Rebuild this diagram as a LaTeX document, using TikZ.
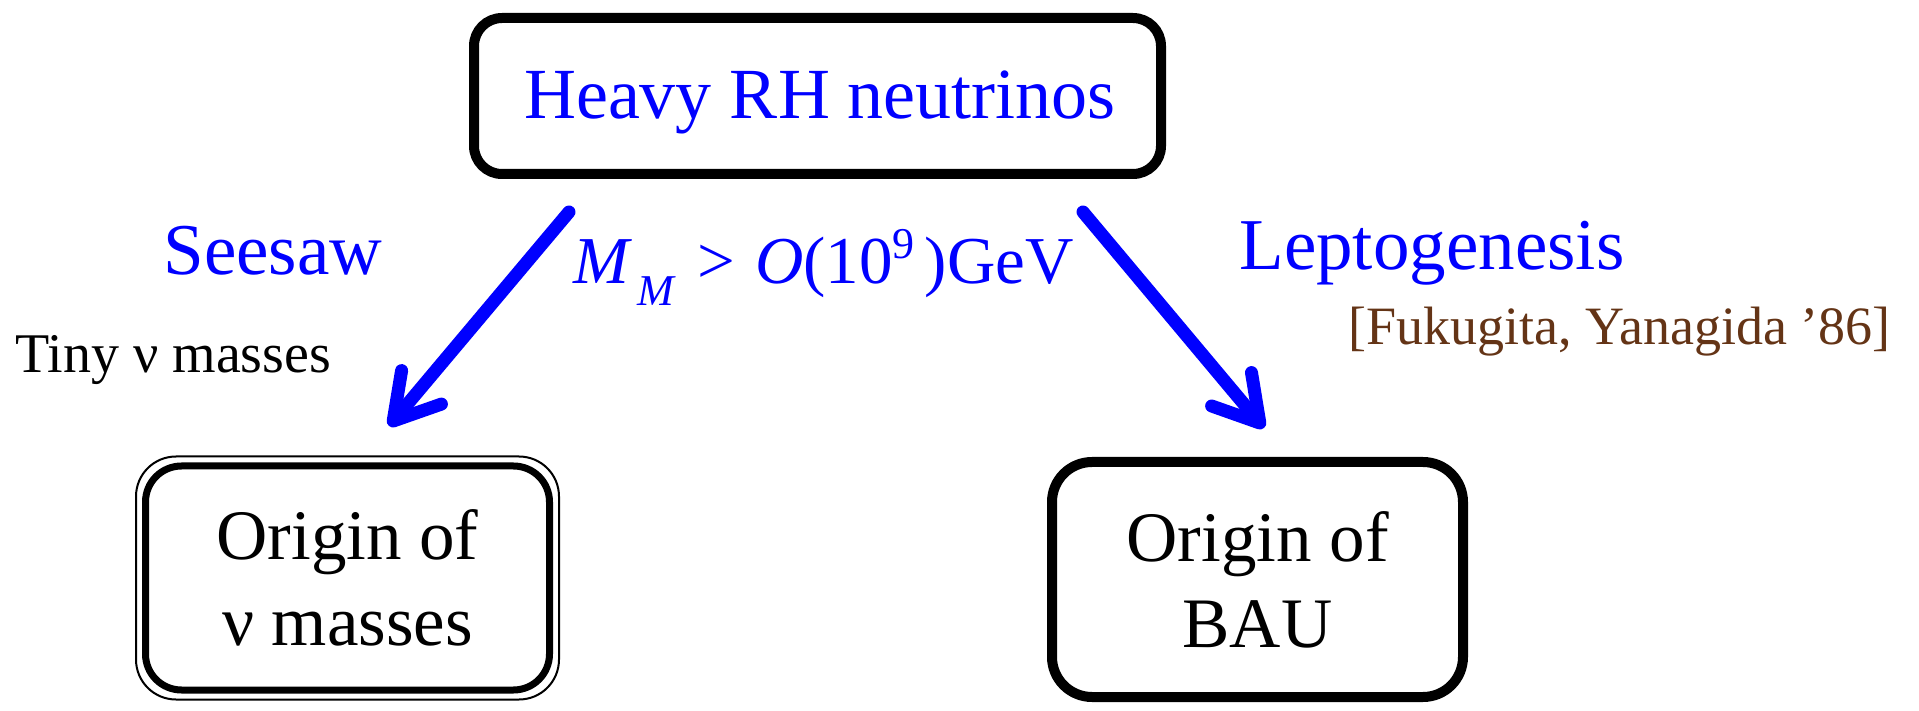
\documentclass[tikz,border=0pt]{standalone}
\usepackage{fontspec}
\setmainfont{Liberation Serif}
\usetikzlibrary{arrows.meta}
\definecolor{rhblue}{RGB}{0,0,255}
\definecolor{refbrown}{RGB}{100,52,22}
\begin{document}
\begin{tikzpicture}[x=0.5pt,y=-0.5pt,
  box/.style={draw=black, line width=5pt, rounded corners=16pt, inner sep=0pt, align=center},
  boxtext/.style={font=\fontsize{35.5}{43}\selectfont},
  bigarrow/.style={draw=rhblue, line width=6.5pt, line cap=round,
    -{Straight Barb[length=22pt,width=26pt,round]}},
  lab/.style={inner sep=0pt},
  bluelab/.style={lab, text=rhblue, font=\fontsize{36.5}{38}\selectfont},
]
\useasboundingbox (0,0) rectangle (1919,711);

% boxes
\node[box, minimum width=343.5pt, minimum height=78pt, rounded corners=14pt] (rh) at (817.5,96) {};
\node[lab, text=rhblue, font=\fontsize{36}{38}\selectfont] (rht) at (820,102) {Heavy RH neutrinos};
\node[box, boxtext, line width=3.5pt, minimum width=202pt, minimum height=112pt,
      rounded corners=18pt] (nu) at (347.5,578) {Origin of\\ν masses};
\draw[line width=1pt, rounded corners=20pt]
  ([shift={(-6,6)}]nu.south west) rectangle ([shift={(6,-6)}]nu.north east);
\node[box, boxtext, minimum width=205.5pt, minimum height=117.5pt,
      rounded corners=20pt] (bau) at (1257.5,579.5) {Origin of\\BAU};

% arrows
\coordinate (la0) at (569,212);
\coordinate (la1) at (389,426);
\coordinate (ra0) at (1083,212);
\coordinate (ra1) at (1264,428);
\draw[bigarrow] (la0) -- (la1);
\draw[bigarrow] (ra0) -- (ra1);

% labels
\node[bluelab] (see) at (273,251) {Seesaw};
\node[bluelab] (lep) at (1432,253) {Leptogenesis};
\node[lab, anchor=base west, font=\fontsize{28}{30}\selectfont] (tiny) at (15,373) {Tiny ν masses};
\node[lab, anchor=base east, text=refbrown, font=\fontsize{27}{29}\selectfont] (ref) at (1891,345)
  {[Fukugita, Yanagida ’86]};
\node[lab, anchor=base west, text=rhblue, font=\fontsize{33.5}{35}\selectfont] (mm) at (573,284)
  {{\itshape M}\kern0.12em\raisebox{-0.32em}{\fontsize{22}{24}\selectfont\itshape M}\kern0.35em>\kern0.3em{\itshape O}(10\raisebox{0.38em}{\fontsize{22}{24}\selectfont 9}\kern0.15em)GeV};
\end{tikzpicture}
\end{document}
